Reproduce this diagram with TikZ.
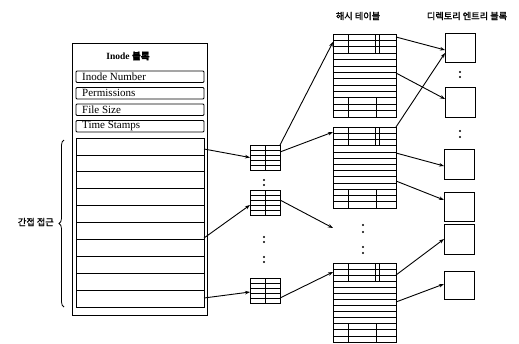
\documentclass[tikz,border=0pt]{standalone}
\usepackage{fontspec}
\setmainfont{Liberation Serif}
\newfontfamily\kr[FakeBold=1.5]{Noto Sans CJK KR}
\usetikzlibrary{arrows.meta,decorations.pathreplacing}
\newcommand\iblock[2]{%
  \node[box, minimum width=30pt, minimum height=25pt] (#1) at (250,#2) {};
  \foreach \k in {1,...,4} \draw[rowline] (250,{#2+\k*5}) -- (280,{#2+\k*5});
  \draw[rowline] (265,#2) -- (265,{#2+25});
}
\newcommand\htab[3]{%
  \node[box, minimum width=63pt, minimum height=#3pt] (#1) at (333,#2) {};
  \foreach \k in {1,...,12} \draw[rowline] (333,{#2+\k*#3/13}) -- (396,{#2+\k*#3/13});
  \foreach \xx in {348,375,379} \draw[rowline] (\xx,#2) -- (\xx,{#2+3*#3/13});
  \foreach \xx in {348,376} \draw[rowline] (\xx,{#2+10*#3/13}) -- (\xx,{#2+#3});
}
\begin{document}
\begin{tikzpicture}[x=1pt,y=-1pt,
  box/.style={draw, line width=1pt, inner sep=0pt, outer sep=0pt, anchor=north west},
  conn/.style={line width=0.9pt, -{Stealth[length=5pt,width=3.6pt]}},
  plain/.style={line width=0.9pt},
  rowline/.style={line width=0.75pt},
  dot/.style={fill, circle, inner sep=0pt, minimum size=2.2pt},
  field/.style={draw, line width=0.9pt, rounded corners=1pt, minimum width=128pt, minimum height=11.5pt, anchor=north west, inner sep=0pt, outer sep=0pt},
  ftext/.style={font=\fontsize{11}{12}\selectfont, anchor=west, inner sep=0pt},
  krlab/.style={font=\kr\fontsize{9.2}{10}\selectfont, inner sep=0pt}
]
\useasboundingbox (0,0) rectangle (519,343);

% headings
\node[krlab] (hhash) at (358,16) {해시 테이블};
\node[krlab] (hdir) at (467,16) {디렉토리 엔트리 블록};

% inode block
\node[box, minimum width=135pt, minimum height=272pt] (inode) at (72,43) {};
\node[inner sep=0pt, font=\bfseries\fontsize{9.5}{10}\selectfont] (title) at (128,56) {Inode {\kr 블록}};
\node[field] (f1) at (76,71) {};
\node[ftext] (t1) at (82,76.75) {Inode Number};
\node[field] (f2) at (76,87.5) {};
\node[ftext] (t2) at (82,93.25) {Permissions};
\node[field] (f3) at (76,104) {};
\node[ftext] (t3) at (82,109.75) {File Size};
\node[field] (f4) at (76,120.5) {};
\node[ftext] (t4) at (82,126.25) {Time Stamps};
\node[box, minimum width=128pt, minimum height=169pt] (list) at (76,138) {};
\foreach \k in {1,...,9} \draw[rowline] (76,{138+\k*16.9}) -- (204,{138+\k*16.9});

% brace
\draw[line width=0.8pt, decorate, decoration={brace, amplitude=5pt}] (64,307) -- (64,140);
\node[krlab, anchor=east] (ind) at (54,222) {간접 접근};

% indirect blocks
\iblock{b1}{145}
\iblock{b2}{190}
\iblock{b3}{278}
\foreach \yy in {180,185,237,242,257,262} \node[dot] at (264,\yy) {};

% hash tables
\htab{h1}{34}{83}
\htab{h2}{127}{81}
\htab{h3}{263}{79}
\foreach \yy in {225,232,247,253} \node[dot] at (363,\yy) {};

% directory entry blocks
\node[box, minimum width=30pt, minimum height=29pt] (d1) at (445,33) {};
\node[box, minimum width=30pt, minimum height=30pt] (d2) at (445,87) {};
\node[box, minimum width=30pt, minimum height=30pt] (d3) at (444,149) {};
\node[box, minimum width=30pt, minimum height=29pt] (d4) at (444,192) {};
\node[box, minimum width=30pt, minimum height=30pt] (d5) at (444,224) {};
\node[box, minimum width=30pt, minimum height=28pt] (d6) at (444,271) {};
\foreach \yy in {72,77,131,137} \node[dot] at (460,\yy) {};

% free end
\coordinate (e1) at (333,228);

% connectors inode -> indirect blocks
\draw[conn] ([yshift=73.5pt]list.east) -- (b1.west);
\draw[conn] ([yshift=-15.5pt]list.east) -- ([yshift=-2.5pt]b2.west);
\draw[conn] ([yshift=-75.5pt]list.east) -- ([yshift=-1.5pt]b3.west);

% indirect blocks -> hash tables
\draw[conn] (b1.north east) -- ([yshift=-8pt]h1.north west);
\draw[conn] ([yshift=5.5pt]b1.east) -- ([yshift=-5pt]h2.north west);
\draw[conn] ([yshift=2.5pt]b2.east) -- (e1);
\draw[conn] ([yshift=-7.5pt]b3.east) -- ([yshift=-9pt]h3.north west);

% hash tables -> directory entry blocks
\draw[conn] ([yshift=-3pt]h1.north east) -- ([yshift=-2.5pt]d1.west);
\draw[conn] ([yshift=-39pt]h1.north east) -- ([yshift=3pt]d2.west);
\draw[conn] (h2.north east) -- ([yshift=-5.5pt]d1.west);
\draw[conn] ([yshift=-26pt]h2.north east) -- ([yshift=-2pt]d3.west);
\draw[conn] ([yshift=-54pt]h2.north east) -- ([yshift=6.5pt]d4.west);
\draw[conn] ([yshift=-12pt]h3.north east) -- (d5.west);
\draw[conn] ([yshift=-39pt]h3.north east) -- ([yshift=1pt]d6.west);
\end{tikzpicture}
\end{document}
